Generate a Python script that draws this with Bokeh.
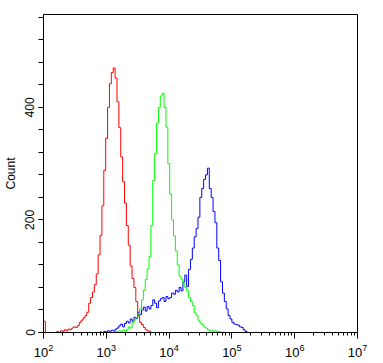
import numpy as np
from bokeh.plotting import figure
from bokeh.models import Range1d, FixedTicker, SingleIntervalTicker
from bokeh.embed import file_html
from bokeh.resources import INLINE

# histogram channels: log10 of the left edge of each bin, bin width in log10 units
bin_width = 0.03

red_start = 2.00
red_counts = [20, 0, 0, 0, 0, 0, 0,
              2, 0, 3, 2, 5, 3, 6, 5, 8, 10, 9, 12, 18, 22, 26, 30, 36, 52, 62, 72,
              85, 104, 138, 172, 225, 288, 345, 400, 442, 462, 470, 452, 410, 364,
              312, 268, 230, 190, 155, 118, 96, 80, 55, 30, 18, 14, 9, 5, 3, 2, 0]

green_start = 3.11
green_counts = [1, 2, 0, 3, 2, 4, 2, 5, 10, 8, 17, 22, 26, 32, 42, 58, 75, 94, 113,
                135, 190, 270, 318, 372, 400, 420, 425, 400, 365, 300, 246, 200, 172,
                145, 120, 100, 95, 88, 80, 74, 62, 55, 48, 35, 30, 22, 17, 14, 10, 8,
                5, 3, 4, 2, 3, 1, 2, 0, 1, 0]

blue_start = 2.90
blue_counts = [1, 0, 2, 1, 3, 2, 4, 3, 6, 8, 12, 15, 10, 16, 20, 17, 24, 20, 27, 25,
               36, 32, 40, 45, 38, 46, 42, 48, 58, 52, 44, 56, 60, 62, 55, 64, 60, 62,
               70, 68, 75, 72, 80, 74, 90, 102, 82, 112, 130, 150, 170, 185, 205, 240,
               256, 272, 280, 292, 256, 240, 215, 195, 150, 128, 90, 70, 55, 42, 30,
               24, 18, 15, 14, 13, 10, 9, 5, 2, 0]

x_major_exponents = [2, 3, 4, 5, 6, 7]

p = figure(width=383, height=363, output_backend="svg", toolbar_location=None,
           x_axis_type="log", x_range=Range1d(100, 1e7), y_range=Range1d(0, 565),
           min_border_left=43, min_border_right=26, min_border_top=14, min_border_bottom=31)

p.xgrid.visible = False
p.ygrid.visible = False
p.outline_line_color = "black"
p.outline_line_width = 1


def step_xy(start, counts):
    edges = [10 ** (start + i * bin_width) for i in range(len(counts) + 1)]
    ys = list(counts) + [counts[-1]]
    return edges, ys


for start, counts, color in [(blue_start, blue_counts, "#0000ff"),
                             (green_start, green_counts, "#00ff00"),
                             (red_start, red_counts, "#ff0000")]:
    xs, ys = step_xy(start, counts)
    p.step(xs, ys, mode="after", line_color=color, line_width=1)

majors = [10.0 ** e for e in x_major_exponents]
minors = [m * 10.0 ** e for e in x_major_exponents[:-1] for m in range(2, 10)]
p.xaxis.ticker = FixedTicker(ticks=majors, minor_ticks=minors)
p.xaxis.major_tick_out = 6
p.xaxis.major_tick_in = 0
p.xaxis.minor_tick_out = 3
p.xaxis.minor_tick_in = 0
p.xaxis.major_label_text_font = "Liberation Sans"
p.xaxis.major_label_text_font_size = "13px"
p.xaxis.major_label_text_color = "black"
p.xaxis.major_label_standoff = 5

p.yaxis.ticker = SingleIntervalTicker(interval=200, num_minor_ticks=5)
p.yaxis.major_tick_out = 5
p.yaxis.major_tick_in = 0
p.yaxis.minor_tick_out = 5
p.yaxis.minor_tick_in = 0
p.yaxis.major_label_orientation = "parallel"
p.yaxis.major_label_text_font = "Liberation Sans"
p.yaxis.major_label_text_font_size = "12px"
p.yaxis.major_label_text_color = "black"
p.yaxis.major_label_standoff = 4
p.yaxis.axis_label = "Count"
p.yaxis.axis_label_text_font = "Liberation Sans"
p.yaxis.axis_label_text_font_style = "normal"
p.yaxis.axis_label_text_font_size = "12px"
p.yaxis.axis_label_text_color = "black"
p.yaxis.axis_label_standoff = 5

for ax in (p.xaxis, p.yaxis):
    ax.axis_line_color = "black"
    ax.major_tick_line_color = "black"
    ax.minor_tick_line_color = "black"

open("out.html", "w").write(file_html(p, INLINE))
